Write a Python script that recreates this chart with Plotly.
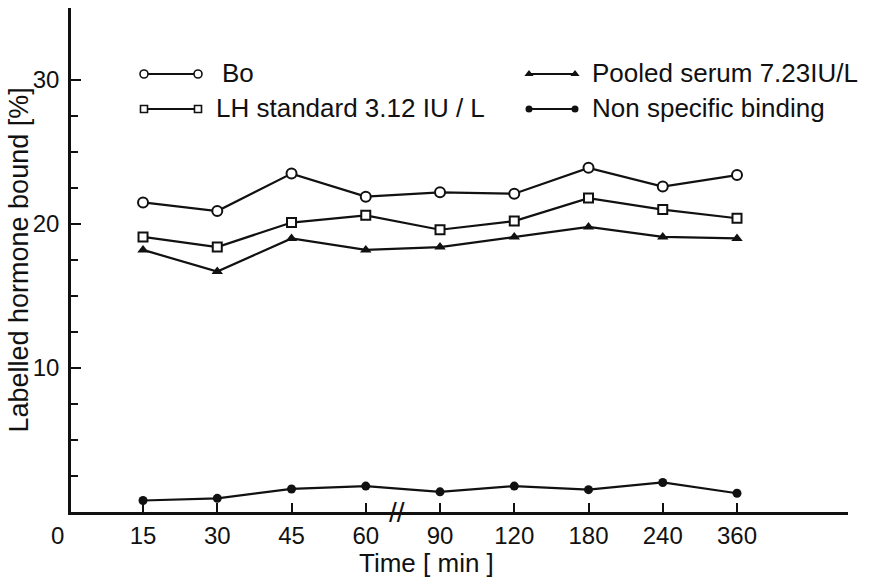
import plotly.graph_objects as go

# ---- data ----
time_labels = ["15", "30", "45", "60", "90", "120", "180", "240", "360"]
bo = [21.5, 20.9, 23.5, 21.9, 22.2, 22.1, 23.9, 22.6, 23.4]
lh_standard = [19.1, 18.4, 20.1, 20.6, 19.6, 20.2, 21.8, 21.0, 20.4]
pooled_serum = [18.2, 16.7, 19.0, 18.2, 18.4, 19.1, 19.8, 19.1, 19.0]
non_specific = [0.8, 0.95, 1.6, 1.8, 1.4, 1.8, 1.55, 2.05, 1.3]

series_names = ["Bo", "LH standard 3.12 IU / L", "Pooled serum 7.23IU/L", "Non specific binding"]
y_major = [10, 20, 30]
y_minor = [2.5, 5, 7.5, 12.5, 15, 17.5, 22.5, 25, 27.5]

FONT = "Liberation Sans, Arial, sans-serif"
BLACK = "#111111"

styles = [
    dict(symbol="circle", size=10, color="white", line=dict(width=2, color=BLACK)),
    dict(symbol="square", size=9, color="white", line=dict(width=2, color=BLACK)),
    dict(symbol="triangle-up", size=10, color=BLACK),
    dict(symbol="circle", size=9, color=BLACK),
]
series = [bo, lh_standard, pooled_serum, non_specific]

fig = go.Figure()
for name, vals, st in zip(series_names, series, styles):
    mk = dict(symbol=st["symbol"], size=st["size"], color=st["color"])
    if "line" in st:
        mk["line"] = st["line"]
    fig.add_trace(go.Scatter(
        x=time_labels, y=vals, mode="lines+markers", name=name,
        line=dict(color=BLACK, width=2.2), marker=mk, showlegend=False,
    ))

# ---- hand-drawn style legend (overlay axes in pixel units) ----
legend_rows = [
    (0, 74, 144, 198, 220),   # Bo
    (1, 109, 144, 198, 214),  # LH
    (2, 74, 529, 575, 590),   # Pooled
    (3, 109, 529, 575, 590),  # NSB
]
for idx, ly, x0, x1, tx in legend_rows:
    st = styles[idx]
    mk = dict(symbol=st["symbol"], size=st["size"] - 2, color=st["color"])
    if "line" in st:
        mk["line"] = dict(width=1.6, color=BLACK)
    fig.add_trace(go.Scatter(
        x=[x0, x1], y=[ly, ly], xaxis="x2", yaxis="y2", mode="lines+markers",
        line=dict(color=BLACK, width=1.8), marker=mk, showlegend=False, hoverinfo="skip",
    ))

annotations = []
for idx, ly, x0, x1, tx in legend_rows:
    annotations.append(dict(
        x=tx, y=ly - 1, xref="x2", yref="y2", text=series_names[idx], showarrow=False,
        xanchor="left", yanchor="middle", font=dict(family=FONT, size=26, color=BLACK),
    ))

# "0" origin label, axis break mark, axis titles
annotations += [
    dict(x=-0.018, y=-0.047, xref="paper", yref="paper", text="0", showarrow=False,
         xanchor="center", yanchor="middle", font=dict(family=FONT, size=24, color=BLACK)),
    dict(x=3.42, y=0, xref="x", yref="y", text="//", showarrow=False,
         xanchor="center", yanchor="middle", font=dict(family=FONT, size=28, color=BLACK)),
    dict(x=0.457, y=-0.101, xref="paper", yref="paper", text="Time [ min ]", showarrow=False,
         xanchor="center", yanchor="middle", font=dict(family=FONT, size=26, color=BLACK)),
    dict(x=-0.0675, y=0.5, xref="paper", yref="paper", text="Labelled hormone bound [%]",
         showarrow=False, textangle=-90, xanchor="center", yanchor="middle",
         font=dict(family=FONT, size=27, color=BLACK)),
]

fig.update_layout(
    width=878, height=582,
    margin=dict(l=71, r=30, t=8, b=70),
    paper_bgcolor="white", plot_bgcolor="white",
    font=dict(family=FONT, color=BLACK),
    xaxis=dict(
        type="category", range=[-0.97, 9.495], showgrid=False, zeroline=False,
        showline=True, linecolor=BLACK, linewidth=2.5,
        ticks="inside", ticklen=9, tickwidth=2, tickcolor=BLACK,
        tickfont=dict(family=FONT, size=24, color=BLACK),
    ),
    yaxis=dict(
        range=[0, 35], showgrid=False, zeroline=False,
        showline=True, linecolor=BLACK, linewidth=2.5,
        tickvals=y_major, ticks="inside", ticklen=10, tickwidth=2, tickcolor=BLACK,
        tickfont=dict(family=FONT, size=24, color=BLACK), ticklabelstandoff=4,
        minor=dict(tickvals=y_minor, ticks="inside", ticklen=7, tickwidth=2, tickcolor=BLACK),
    ),
    xaxis2=dict(overlaying="x", range=[71, 848], visible=False, anchor="y2"),
    yaxis2=dict(overlaying="y", range=[512, 8], visible=False, anchor="x2"),
    annotations=annotations,
    showlegend=False,
)

fig.write_html("out.html")
